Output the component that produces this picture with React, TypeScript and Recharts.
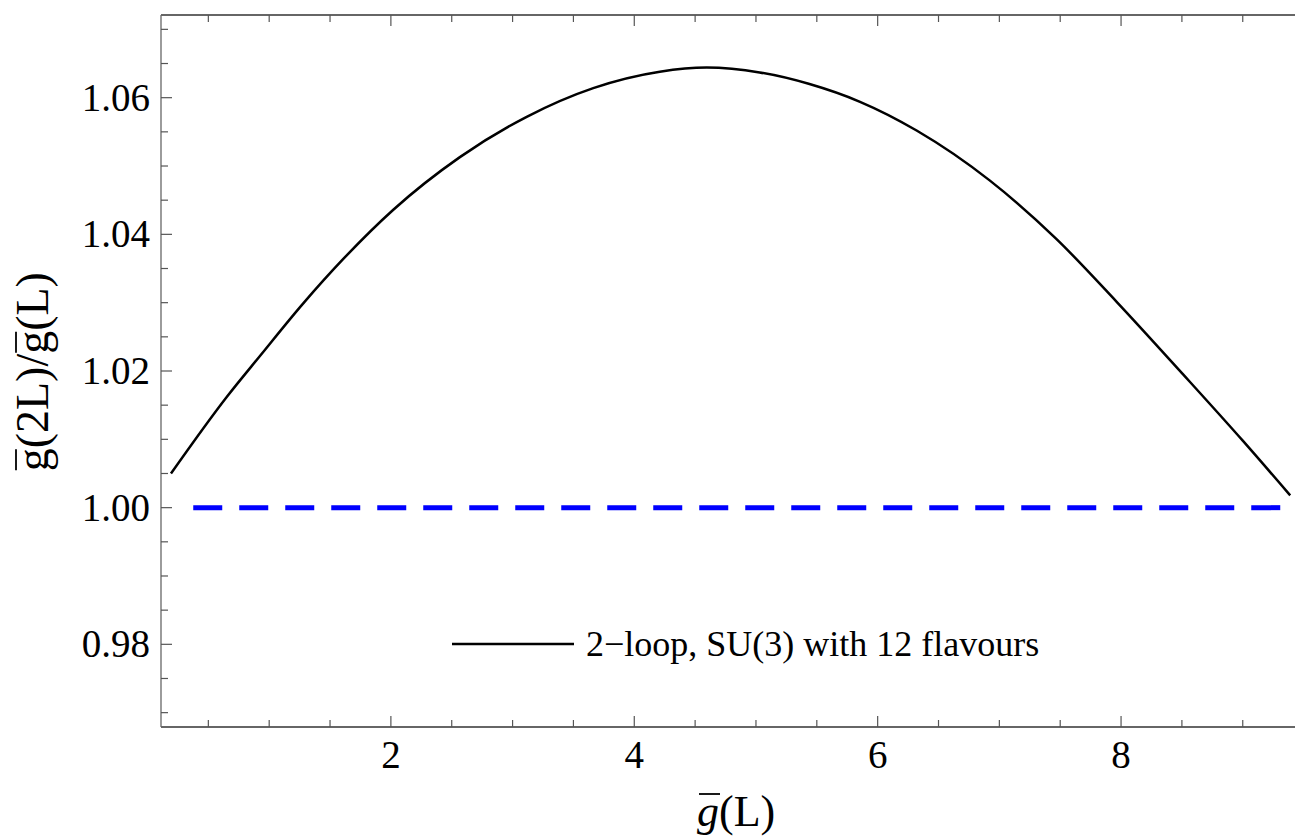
import React from 'react'
import { LineChart, Line, XAxis, YAxis, Legend, Label } from 'recharts'

const SERIF = '"Liberation Serif", "DejaVu Serif", serif'

// g(L) values and the 2-loop step scaling ratio
const couplings = [
  0.193, 0.651, 0.924, 1.28, 1.609, 2.02, 2.567, 3.116, 3.663, 4.21, 4.595, 5.03, 5.44,
  5.855, 6.32, 6.92, 7.47, 7.96, 8.51, 9.0, 9.39,
]
const ratios = [
  1.005, 1.0162, 1.0222, 1.0299, 1.0364, 1.0436, 1.0513, 1.0572, 1.0614, 1.0638, 1.0644,
  1.0637, 1.062, 1.0594, 1.0552, 1.0479, 1.0393, 1.0302, 1.0195, 1.0098, 1.0018,
]

// unit reference line
const refCouplings = [0.376, 9.39]
const refRatios = [1.0, 1.0]

const xMajor = [2, 4, 6, 8]
const xMinor = [0.5, 1, 1.5, 2.5, 3, 3.5, 4.5, 5, 5.5, 6.5, 7, 7.5, 8.5, 9]
const yMajor = [0.98, 1.0, 1.02, 1.04, 1.06]
const yMinor = [
  0.97, 0.975, 0.985, 0.99, 0.995, 1.005, 1.01, 1.015, 1.025, 1.03, 1.035, 1.045, 1.05,
  1.055, 1.065, 1.07,
]

const X_DOMAIN = [0.111, 9.454]
const Y_DOMAIN = [0.9679, 1.0721]

const LEGEND_LABEL = '2\u2212loop, SU(3) with 12 flavours'

const curveData = couplings.map((g, i) => ({ g, ratio: ratios[i] }))
const refData = refCouplings.map((g, i) => ({ g, one: refRatios[i] }))

const xTicks = [...xMajor, ...xMinor].sort((a, b) => a - b)
const yTicks = [...yMajor, ...yMinor].sort((a, b) => a - b)

const isMajor = (list: number[], v: number) => list.some((m) => Math.abs(m - v) < 1e-9)

const TICK_COLOR = '#555'
const AXIS_COLOR = '#333'

const BottomTick = (props: any) => {
  const { x, y, payload } = props
  const major = isMajor(xMajor, payload.value)
  return (
    <g>
      <line x1={x} x2={x} y1={y} y2={y - (major ? 11 : 7)} stroke={TICK_COLOR} strokeWidth={1.2} />
      {major && (
        <text x={x} y={y + 41} textAnchor="middle" fontFamily={SERIF} fontSize={39} fill="#000">
          {payload.value}
        </text>
      )}
    </g>
  )
}

const TopTick = (props: any) => {
  const { x, y, payload } = props
  const major = isMajor(xMajor, payload.value)
  return <line x1={x} x2={x} y1={y} y2={y + (major ? 11 : 7)} stroke={TICK_COLOR} strokeWidth={1.2} />
}

const LeftTick = (props: any) => {
  const { x, y, payload } = props
  const major = isMajor(yMajor, payload.value)
  return (
    <g>
      <line x1={x} x2={x + (major ? 11 : 7)} y1={y} y2={y} stroke={TICK_COLOR} strokeWidth={1.2} />
      {major && (
        <text
          x={x - 11}
          y={y + 13}
          textAnchor="end"
          fontFamily={SERIF}
          fontSize={39}
          fill="#000"
        >
          {payload.value.toFixed(2)}
        </text>
      )}
    </g>
  )
}

// g with a bar, then "(L)"; sizes follow Times metrics
const XAxisTitle = () => {
  const fs = 44
  const x0 = 697
  const base = 826
  return (
    <g>
      <line x1={x0 + 2} x2={x0 + 23} y1={base - 32} y2={base - 32} stroke="#000" strokeWidth={1.8} />
      <text x={x0} y={base} fontFamily={SERIF} fontSize={fs} fill="#000">
        <tspan fontStyle="italic">g</tspan>
        (L)
      </text>
    </g>
  )
}

const YAxisTitle = ({ cy }: { cy: number }) => {
  const fs = 46
  const w = 4.232 * fs
  const start = -w / 2
  const g2 = start + 2.555 * fs
  return (
    <g transform={`translate(48 ${cy}) rotate(-90)`}>
      <line x1={start + 1} x2={start + 0.5 * fs - 1} y1={-32} y2={-32} stroke="#000" strokeWidth={1.8} />
      <line x1={g2 + 1} x2={g2 + 0.5 * fs - 1} y1={-32} y2={-32} stroke="#000" strokeWidth={1.8} />
      <text x={start} y={0} fontFamily={SERIF} fontSize={fs} fill="#000">
        g(2L)/g(L)
      </text>
    </g>
  )
}

const renderLegend = (props: any) => {
  const items = (props.payload || []).filter((p: any) => p.dataKey === 'ratio')
  return (
    <div>
      {items.map((item: any) => (
        <div
          key={item.dataKey}
          style={{ display: 'flex', alignItems: 'center', fontFamily: SERIF, fontSize: 36 }}
        >
          <svg width={122} height={6}>
            <line x1={0} x2={122} y1={3} y2={3} stroke="#000" strokeWidth={2.5} />
          </svg>
          <span style={{ marginLeft: 12, lineHeight: '40px', whiteSpace: 'nowrap' }}>
            {item.value}
          </span>
        </div>
      ))}
    </div>
  )
}

export default function App() {
  return (
    <div
      style={{
        position: 'absolute',
        left: 0,
        top: 0,
        width: 1295,
        height: 836,
        overflow: 'hidden',
        background: '#fff',
      }}
    >
      <LineChart
        width={1300}
        height={836}
        margin={{ top: 14, right: 2, bottom: 108, left: 160 }}
      >
        <XAxis
          dataKey="g"
          type="number"
          domain={X_DOMAIN}
          allowDataOverflow
          ticks={xTicks}
          interval={0}
          height={1}
          tickSize={0}
          tickMargin={0}
          tick={<BottomTick />}
          axisLine={{ stroke: AXIS_COLOR, strokeWidth: 1.3 }}
        >
          <Label content={() => <XAxisTitle />} />
        </XAxis>
        <XAxis
          xAxisId="top"
          orientation="top"
          dataKey="g"
          type="number"
          domain={X_DOMAIN}
          allowDataOverflow
          ticks={xTicks}
          interval={0}
          height={1}
          tickSize={0}
          tickMargin={0}
          tick={<TopTick />}
          axisLine={{ stroke: AXIS_COLOR, strokeWidth: 1.3 }}
        />
        <YAxis
          type="number"
          domain={Y_DOMAIN}
          allowDataOverflow
          ticks={yTicks}
          interval={0}
          width={1}
          tickSize={0}
          tickMargin={0}
          tick={<LeftTick />}
          axisLine={{ stroke: '#666', strokeWidth: 1.3 }}
        >
          <Label
            content={({ viewBox }: any) => {
              const { y = 0, height = 0 } = viewBox || {}
              return <YAxisTitle cy={y + height / 2 + 3} />
            }}
          />
        </YAxis>
        <Legend
          layout="horizontal"
          verticalAlign="middle"
          align="center"
          content={renderLegend}
          wrapperStyle={{ left: 452, top: 624, width: 'auto' }}
        />
        <Line
          data={refData}
          dataKey="one"
          type="linear"
          stroke="#0000ff"
          strokeWidth={5}
          strokeDasharray="29 17"
          dot={false}
          activeDot={false}
          legendType="none"
          isAnimationActive={false}
        />
        <Line
          data={curveData}
          dataKey="ratio"
          name={LEGEND_LABEL}
          type="monotone"
          stroke="#000"
          strokeWidth={2.5}
          dot={false}
          activeDot={false}
          isAnimationActive={false}
        />
      </LineChart>
    </div>
  )
}
